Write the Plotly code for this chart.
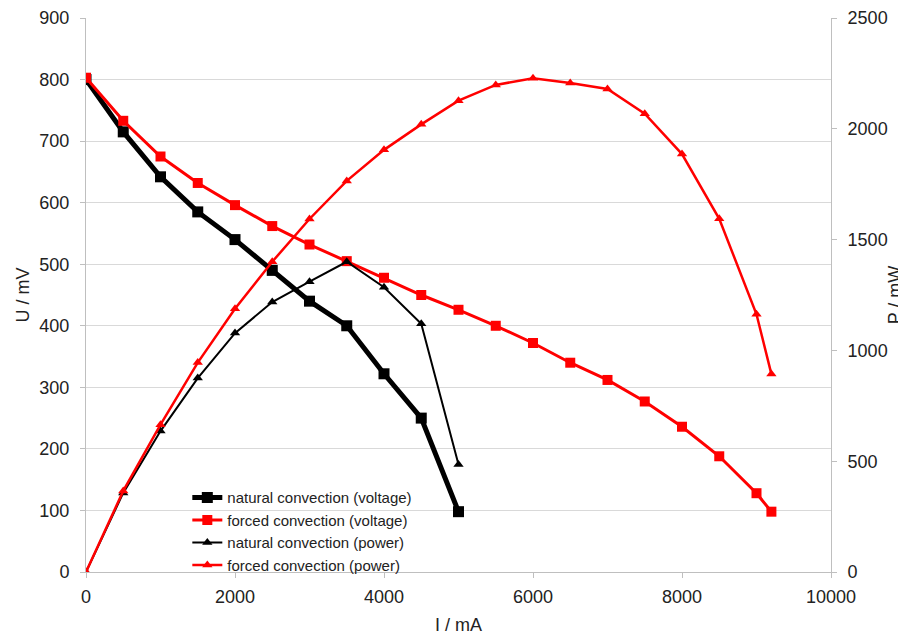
import plotly.graph_objects as go

current_nat = [0, 500, 1000, 1500, 2000, 2500, 3000, 3500, 4000, 4500, 5000]
voltage_nat = [800, 715, 642, 585, 540, 490, 440, 400, 322, 250, 98]
power_nat = [0, 357, 636, 875, 1078, 1218, 1310, 1400, 1285, 1120, 485]

current_forced = [0, 500, 1000, 1500, 2000, 2500, 3000, 3500, 4000, 4500, 5000,
                  5500, 6000, 6500, 7000, 7500, 8000, 8500, 9000, 9200]
voltage_forced = [803, 733, 675, 632, 596, 562, 532, 505, 478, 450, 426,
                  400, 372, 340, 312, 277, 236, 188, 128, 98]
power_forced = [0, 366, 665, 945, 1188, 1400, 1593, 1765, 1905, 2020, 2127,
                2198, 2228, 2207, 2180, 2068, 1886, 1594, 1163, 893]

x_ticks = [0, 2000, 4000, 6000, 8000, 10000]
x_tick_labels = ["0", "2000", "4000", "6000", "8000", "10000"]

FONT = "Liberation Sans, Arial, sans-serif"

fig = go.Figure()
fig.add_trace(go.Scatter(x=current_nat, y=voltage_nat, mode="lines+markers",
                         name="natural convection (voltage)",
                         line=dict(color="black", width=5),
                         marker=dict(symbol="square", size=11, color="black")))
fig.add_trace(go.Scatter(x=current_forced, y=voltage_forced, mode="lines+markers",
                         name="forced convection (voltage)",
                         line=dict(color="#ff0000", width=3),
                         marker=dict(symbol="square", size=10, color="#ff0000")))
fig.add_trace(go.Scatter(x=current_nat, y=power_nat, mode="lines+markers",
                         name="natural convection (power)", yaxis="y2",
                         line=dict(color="black", width=2),
                         marker=dict(symbol="triangle-up", size=9, color="black")))
fig.add_trace(go.Scatter(x=current_forced, y=power_forced, mode="lines+markers",
                         name="forced convection (power)", yaxis="y2",
                         line=dict(color="#ff0000", width=2.5),
                         marker=dict(symbol="triangle-up", size=9, color="#ff0000")))

fig.update_layout(
    width=906, height=633,
    margin=dict(l=78, r=83, t=10, b=69, autoexpand=False),
    paper_bgcolor="white", plot_bgcolor="white",
    font=dict(family=FONT, size=18, color="#222222"),
    showlegend=True,
    legend=dict(x=0.136, y=0.164, xanchor="left", yanchor="top",
                bgcolor="rgba(255,255,255,0)", font=dict(size=15, family=FONT),
                tracegroupgap=0, itemwidth=30),
    xaxis=dict(range=[0, 10000], tickvals=x_ticks, ticktext=x_tick_labels,
               showgrid=False, automargin=False, ticklabelstandoff=3,
               showline=True, linecolor="#bfbfbf", linewidth=1,
               ticks="outside", ticklen=5, tickcolor="#bfbfbf",
               zeroline=False,
               title=dict(text="I / mA", font=dict(size=18), standoff=12)),
    yaxis=dict(range=[0, 900], dtick=100, showgrid=True, gridcolor="#d9d9d9",
               showline=True, linecolor="#bfbfbf", linewidth=1, automargin=False,
               ticks="outside", ticklen=5, tickcolor="#bfbfbf", ticklabelstandoff=7,
               zeroline=False,
               title=dict(text="U / mV", font=dict(size=18), standoff=5)),
    yaxis2=dict(range=[0, 2500], dtick=500, overlaying="y", side="right",
                showgrid=False, showline=True, linecolor="#bfbfbf", linewidth=1,
                automargin=False, ticklabelstandoff=7,
                ticks="outside", ticklen=5, tickcolor="#bfbfbf",
                zeroline=False,
                title=dict(text="P / mW", font=dict(size=18), standoff=1)),
)

fig.write_html("out.html")
